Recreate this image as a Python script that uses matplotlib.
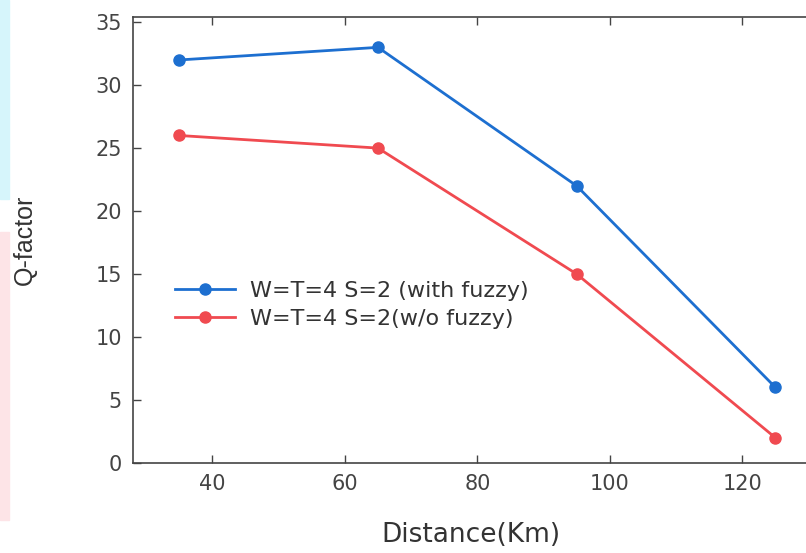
import matplotlib
matplotlib.use("Agg")
from matplotlib import pyplot as plt
from matplotlib.patches import Rectangle

distance = [35, 65, 95, 125]
q_fuzzy = [32, 33, 22, 6]
q_no_fuzzy = [26, 25, 15, 2]
label_fuzzy = "W=T=4 S=2 (with fuzzy)"
label_no_fuzzy = "W=T=4 S=2(w/o fuzzy)"

fig = plt.figure(figsize=(8.06, 5.53), dpi=100)

# faint watermark strips at the left edge
fig.patches.append(Rectangle((0, 0.64), 0.011, 0.36, transform=fig.transFigure,
                             color="#d6f5fb", zorder=0))
fig.patches.append(Rectangle((0, 0.06), 0.011, 0.52, transform=fig.transFigure,
                             color="#fde4e7", zorder=0))

ax = fig.add_axes([0.165, 0.163, 0.838, 0.806])

ax.plot(distance, q_fuzzy, color="#1d6fd0", lw=2, marker="o", ms=8,
        label=label_fuzzy)
ax.plot(distance, q_no_fuzzy, color="#f04a50", lw=2, marker="o", ms=8,
        label=label_no_fuzzy)

ax.set_xlim(28, 130)
ax.set_ylim(0, 35.4)
ax.set_xticks([40, 60, 80, 100, 120])
ax.set_yticks(range(0, 36, 5))

ax.tick_params(direction="in", top=True, right=False, length=6, width=1,
               color="#444444", labelsize=15, labelcolor="#444444", pad=8)
for s in ax.spines.values():
    s.set_color("#444444")
    s.set_linewidth(1.2)

ax.set_xlabel("Distance(Km)", fontsize=19, color="#333333", labelpad=20)
ax.set_ylabel("Q-factor", fontsize=18, color="#333333", labelpad=42,
              family=["Liberation Sans Narrow", "Liberation Sans", "DejaVu Sans"])

ax.legend(loc="center left", bbox_to_anchor=(0.062, 0.354), frameon=False,
          fontsize=16, labelcolor="#333333", handlelength=2.7,
          handletextpad=0.7, labelspacing=0.35, borderpad=0, borderaxespad=0)

fig.savefig("out.png", dpi=100)
